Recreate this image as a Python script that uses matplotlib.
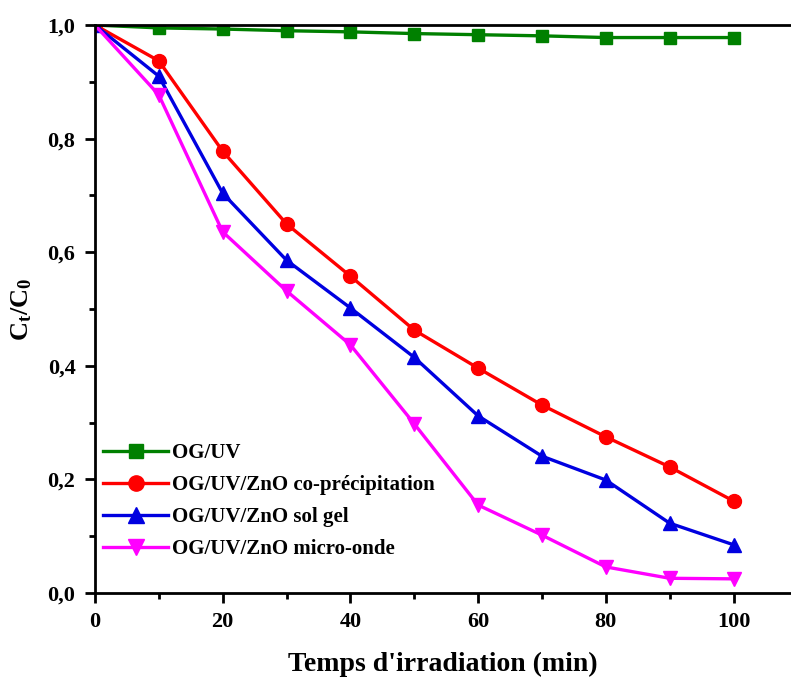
import numpy as np
import matplotlib
matplotlib.use("Agg")
import matplotlib.pyplot as plt
from matplotlib.ticker import MultipleLocator, FuncFormatter

plt.rcParams["font.family"] = "Liberation Serif"
plt.rcParams["font.weight"] = "bold"
plt.rcParams["mathtext.fontset"] = "custom"
plt.rcParams["mathtext.rm"] = "Liberation Serif:bold"
plt.rcParams["mathtext.bf"] = "Liberation Serif:bold"

# irradiation time (min)
time = [0, 10, 20, 30, 40, 50, 60, 70, 80, 90, 100]

# C/C0 for each system
og_uv = [1.0, 0.995, 0.993, 0.990, 0.988, 0.985, 0.983, 0.981, 0.978, 0.978, 0.978]
zno_coprecip = [1.0, 0.937, 0.778, 0.650, 0.558, 0.463, 0.396, 0.331, 0.275, 0.222, 0.162]
zno_solgel = [1.0, 0.910, 0.704, 0.586, 0.502, 0.415, 0.312, 0.241, 0.199, 0.123, 0.085]
zno_microonde = [1.0, 0.877, 0.636, 0.532, 0.437, 0.298, 0.155, 0.102, 0.046, 0.026, 0.025]

labels = ["OG/UV", "OG/UV/ZnO co-précipitation", "OG/UV/ZnO sol gel",
          "OG/UV/ZnO micro-onde"]

fig = plt.figure(figsize=(7.91, 6.77), dpi=100)
ax = fig.add_axes([0.120, 0.124, 0.880, 0.839])

ax.plot(time, og_uv, color="#008000", marker="s", ms=9, lw=2.4, label=labels[0])
ax.plot(time, zno_coprecip, color="#FF0000", marker="o", ms=10, lw=2.4, label=labels[1])
ax.plot(time, zno_solgel, color="#0000E0", marker="^", ms=10, lw=2.4, label=labels[2])
ax.plot(time, zno_microonde, color="#FF00FF", marker="v", ms=10, lw=2.4, label=labels[3])

ax.set_xlim(0, 109)
ax.set_ylim(0, 1.0)

ax.xaxis.set_major_locator(MultipleLocator(20))
ax.xaxis.set_minor_locator(MultipleLocator(10))
ax.yaxis.set_major_locator(MultipleLocator(0.2))
ax.yaxis.set_minor_locator(MultipleLocator(0.1))
ax.yaxis.set_major_formatter(FuncFormatter(lambda v, p: f"{v:.1f}".replace(".", ",")))

ax.tick_params(which="major", direction="out", length=7, width=2, labelsize=16, pad=7)
ax.tick_params(which="minor", direction="out", length=4, width=2)

for s in ["left", "bottom", "top"]:
    ax.spines[s].set_linewidth(2)
ax.spines["right"].set_visible(False)

ax.set_xlabel("Temps d'irradiation (min)", fontsize=20, fontweight="bold", labelpad=14)
ax.set_ylabel(r"$\mathrm{C_t/C_0}$", fontsize=19, labelpad=10)

leg = ax.legend(loc="lower left", frameon=False, fontsize=15, handlelength=3.1,
                handletextpad=0.2, labelspacing=0.58, borderaxespad=0.0,
                bbox_to_anchor=(0.0, 0.045), markerscale=1.1)
for t in leg.get_texts():
    t.set_fontweight("bold")

fig.savefig("out.png", dpi=100)
